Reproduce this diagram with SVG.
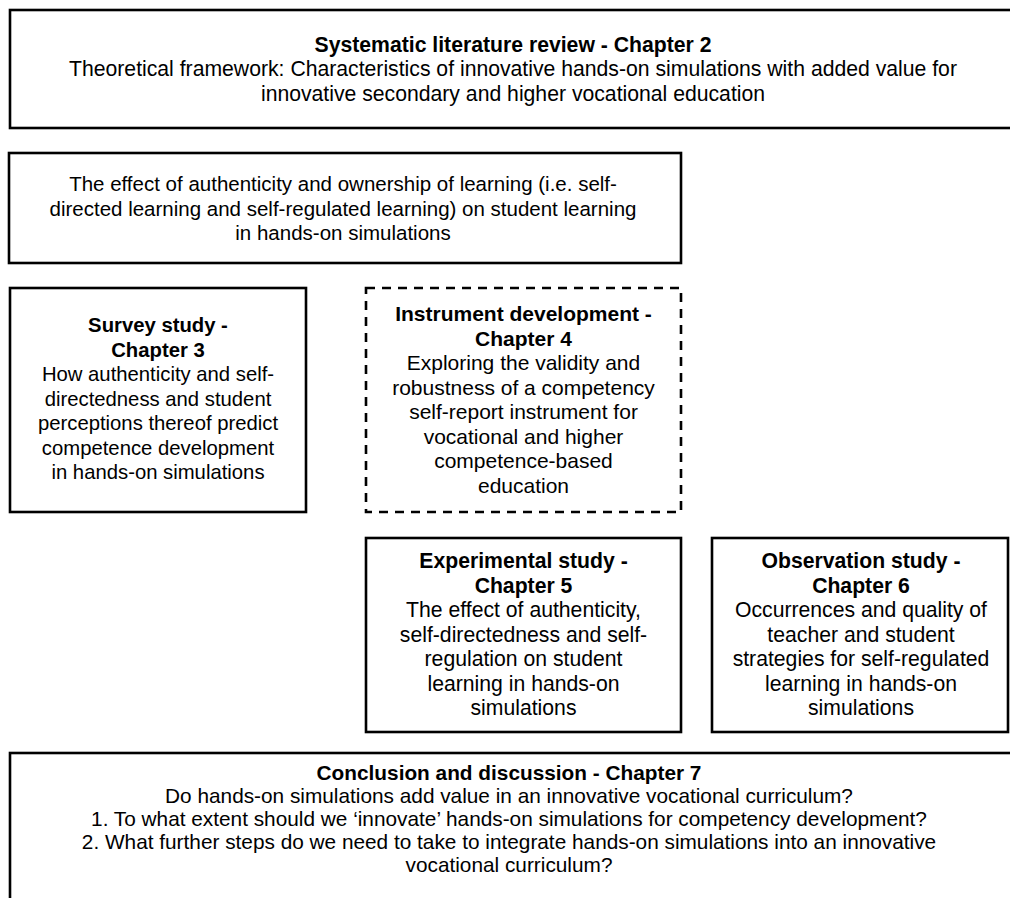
<svg xmlns="http://www.w3.org/2000/svg" width="1010" height="898" viewBox="0 0 1010 898">
  <style>
    .box { fill: #ffffff; stroke: #000000; stroke-width: 2.6; }
    .dash { stroke-dasharray: 9 7; }
    text { font-family: "Liberation Sans", Arial, sans-serif; font-size: 21px; fill: #000000; text-anchor: middle; }
    .b { font-weight: bold; }
    #ch2 text { font-size: 21.2px; }
    #question text { font-size: 20.5px; }
    #ch3 text { font-size: 20.3px; }
    #ch5 text, #ch6 text { font-size: 21.2px; }
    #ch7 text { font-size: 20.8px; }
  </style>
  <rect width="1010" height="898" fill="#ffffff"/>

  <!-- Chapter 2: literature review -->
  <g id="ch2">
    <rect class="box" x="10" y="10" width="1004" height="118"/>
    <text x="513" y="51.5" class="b">Systematic literature review - Chapter 2</text>
    <text x="513" y="76">Theoretical framework: Characteristics of innovative hands-on simulations with added value for</text>
    <text x="513" y="100.5">innovative secondary and higher vocational education</text>
  </g>

  <!-- Overarching research question -->
  <g id="question">
    <rect class="box" x="9" y="153" width="672" height="110"/>
    <text x="343" y="191">The effect of authenticity and ownership of learning (i.e. self-</text>
    <text x="343" y="215.5">directed learning and self-regulated learning) on student learning</text>
    <text x="343" y="240">in hands-on simulations</text>
  </g>

  <!-- Chapter 3: survey study -->
  <g id="ch3">
    <rect class="box" x="10" y="288" width="296" height="224"/>
    <text x="158" y="332" class="b">Survey study -</text>
    <text x="158" y="356.5" class="b">Chapter 3</text>
    <text x="158" y="381">How authenticity and self-</text>
    <text x="158" y="405.5">directedness and student</text>
    <text x="158" y="430">perceptions thereof predict</text>
    <text x="158" y="454.5">competence development</text>
    <text x="158" y="479">in hands-on simulations</text>
  </g>

  <!-- Chapter 4: instrument development (dashed) -->
  <g id="ch4">
    <rect class="box dash" x="366" y="288" width="315" height="224"/>
    <text x="523.5" y="321" class="b">Instrument development -</text>
    <text x="523.5" y="345.5" class="b">Chapter 4</text>
    <text x="523.5" y="370">Exploring the validity and</text>
    <text x="523.5" y="394.5">robustness of a competency</text>
    <text x="523.5" y="419">self-report instrument for</text>
    <text x="523.5" y="443.5">vocational and higher</text>
    <text x="523.5" y="468">competence-based</text>
    <text x="523.5" y="492.5">education</text>
  </g>

  <!-- Chapter 5: experimental study -->
  <g id="ch5">
    <rect class="box" x="366" y="538" width="315" height="194"/>
    <text x="523.5" y="568" class="b">Experimental study -</text>
    <text x="523.5" y="592.5" class="b">Chapter 5</text>
    <text x="523.5" y="617">The effect of authenticity,</text>
    <text x="523.5" y="641.5">self-directedness and self-</text>
    <text x="523.5" y="666">regulation on student</text>
    <text x="523.5" y="690.5">learning in hands-on</text>
    <text x="523.5" y="715">simulations</text>
  </g>

  <!-- Chapter 6: observation study -->
  <g id="ch6">
    <rect class="box" x="712" y="538" width="296" height="194"/>
    <text x="861" y="568" class="b">Observation study -</text>
    <text x="861" y="592.5" class="b">Chapter 6</text>
    <text x="861" y="617">Occurrences and quality of</text>
    <text x="861" y="641.5">teacher and student</text>
    <text x="861" y="666">strategies for self-regulated</text>
    <text x="861" y="690.5">learning in hands-on</text>
    <text x="861" y="715">simulations</text>
  </g>

  <!-- Chapter 7: conclusion and discussion -->
  <g id="ch7">
    <rect class="box" x="10" y="753" width="1004" height="160"/>
    <text x="509" y="780" class="b">Conclusion and discussion - Chapter 7</text>
    <text x="509" y="803">Do hands-on simulations add value in an innovative vocational curriculum?</text>
    <text x="509" y="826">1. To what extent should we ‘innovate’ hands-on simulations for competency development?</text>
    <text x="509" y="849">2. What further steps do we need to take to integrate hands-on simulations into an innovative</text>
    <text x="509" y="872">vocational curriculum?</text>
  </g>

  <!-- no connectors are drawn between the boxes -->
  <g id="connectors"/>
</svg>
